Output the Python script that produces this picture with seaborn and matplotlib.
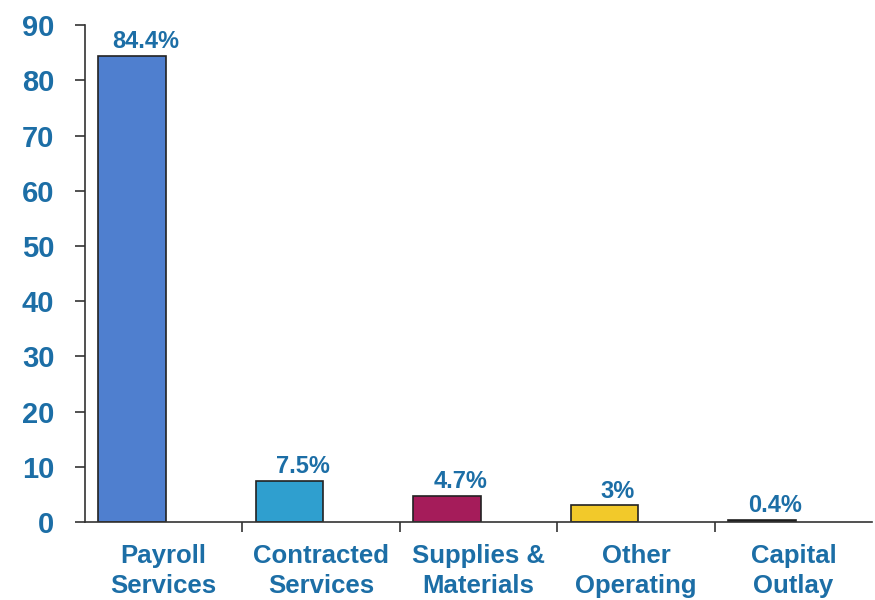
import matplotlib
matplotlib.use("Agg")
import matplotlib.pyplot as plt
import seaborn as sns
import pandas as pd
import numpy as np

categories = ["Payroll\nServices", "Contracted\nServices", "Supplies &\nMaterials",
              "Other\nOperating", "Capital\nOutlay"]
values = [84.4, 7.5, 4.7, 3, 0.4]
value_labels = ["84.4%", "7.5%", "4.7%", "3%", "0.4%"]
bar_colors = ["#4f7fcf", "#2f9fcf", "#a51c5a", "#f2c92a", "#111111"]
y_ticks = [0, 10, 20, 30, 40, 50, 60, 70, 80, 90]

text_color = "#1c6ea6"

sns.set_theme(style="white")
plt.rcParams["font.family"] = ["Liberation Sans", "DejaVu Sans"]

df = pd.DataFrame({"category": categories, "value": values})

fig = plt.figure(figsize=(8.75, 6), dpi=100)
ax = fig.add_axes([0.097, 0.13, 0.9, 0.828])

sns.barplot(data=df, x="category", y="value", hue="category",
            palette=bar_colors, width=0.43, legend=False,
            edgecolor="#222222", linewidth=1.2, saturation=1, ax=ax)

# bars sit in the left half of each category slot
for patch in ax.patches:
    patch.set_x(patch.get_x() - 0.2)

for i, (patch, lab) in enumerate(zip(ax.patches, value_labels)):
    cx = patch.get_x() + patch.get_width() / 2 + 0.085
    ax.annotate(lab, (cx, patch.get_height()), xytext=(0, 2),
                textcoords="offset points", ha="center", va="bottom",
                fontsize=17, fontweight="bold", color=text_color)

ax.set_xlim(-0.5, 4.5)
ax.set_ylim(0, 90)
ax.set_yticks(y_ticks)
ax.set_xlabel("")
ax.set_ylabel("")

# category names centred in slots, tick marks on the slot boundaries
ax.set_xticks(range(len(categories)))
ax.set_xticklabels(categories, fontsize=18.5, fontweight="bold",
                   color=text_color, linespacing=1.3)
ax.set_xticks(np.arange(0.5, 4.0, 1.0), minor=True)
ax.tick_params(axis="x", which="major", length=0, pad=16)
ax.tick_params(axis="x", which="minor", bottom=True, length=7, width=1.2,
               color="#333333", direction="out")
ax.tick_params(axis="y", left=True, length=7, width=1.2, color="#333333",
               direction="out", labelsize=21, labelcolor=text_color, pad=15)
for t in ax.get_yticklabels():
    t.set_fontweight("bold")

for side in ["top", "right"]:
    ax.spines[side].set_visible(False)
for side in ["left", "bottom"]:
    ax.spines[side].set_color("#333333")
    ax.spines[side].set_linewidth(1.2)

fig.savefig("out.png", dpi=100, facecolor="white")
